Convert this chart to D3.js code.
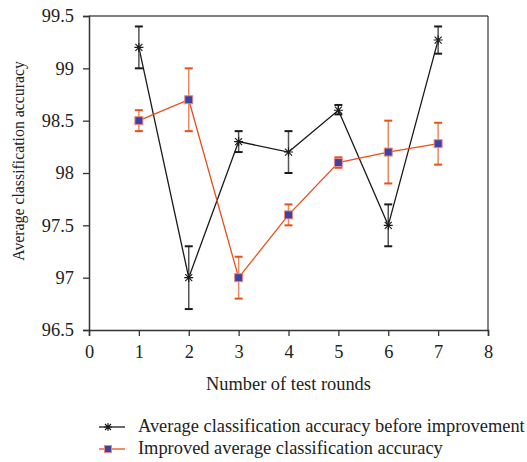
<!DOCTYPE html>
<html>
<head>
<meta charset="utf-8">
<script src="https://cdn.jsdelivr.net/npm/d3@7"></script>
<style>
  body { margin: 0; background: #fff; }
  svg { display: block; }
  text { font-family: "Liberation Serif", "DejaVu Serif", serif; fill: #222; }
</style>
</head>
<body>
<svg id="chart" width="527" height="462"></svg>
<script>
// test rounds
var rounds = [1, 2, 3, 4, 5, 6, 7];
// before improvement: mean, lower, upper
var beforeMean = [99.2, 97.0, 98.3, 98.2, 98.6, 97.5, 99.27];
var beforeLow = [99.0, 96.7, 98.2, 98.0, 98.56, 97.3, 99.14];
var beforeHigh = [99.4, 97.3, 98.4, 98.4, 98.65, 97.7, 99.4];
// improved: mean, lower, upper
var improvedMean = [98.5, 98.7, 97.0, 97.6, 98.1, 98.2, 98.28];
var improvedLow = [98.4, 98.4, 96.8, 97.5, 98.05, 97.9, 98.08];
var improvedHigh = [98.6, 99.0, 97.2, 97.7, 98.15, 98.5, 98.48];
var xTicks = [0, 1, 2, 3, 4, 5, 6, 7, 8];
var yTicks = [96.5, 97, 97.5, 98, 98.5, 99, 99.5];
var legendLabels = ["Average classification accuracy before improvement",
                    "Improved average classification accuracy"];

var svg = d3.select("#chart");
var margin = {left: 89, top: 16, right: 39, bottom: 132};
var width = 527 - margin.left - margin.right,
    height = 462 - margin.top - margin.bottom;
var fs = 18.4;

var x = d3.scaleLinear().domain([0, 8]).range([0, width]);
var y = d3.scaleLinear().domain([96.5, 99.5]).range([height, 0]);

var g = svg.append("g").attr("transform", "translate(" + margin.left + "," + margin.top + ")");

// frame top / right
g.append("line").attr("x1", 0).attr("x2", width).attr("y1", 0).attr("y2", 0)
    .attr("stroke", "#555").attr("stroke-width", 1.5);
g.append("line").attr("x1", width).attr("x2", width).attr("y1", 0).attr("y2", height)
    .attr("stroke", "#333").attr("stroke-width", 1.2);

var xAxis = g.append("g").attr("transform", "translate(0," + height + ")")
    .call(d3.axisBottom(x).tickValues(xTicks).tickSize(6).tickPadding(9).tickFormat(d3.format("d")));
var yAxis = g.append("g")
    .call(d3.axisLeft(y).tickValues(yTicks).tickSize(6).tickPadding(9).tickFormat(function (d) { return String(d); }));
[xAxis, yAxis].forEach(function (a) {
    a.select(".domain").attr("stroke", "#333").attr("stroke-width", 1.5);
    a.selectAll(".tick line").attr("stroke", "#333").attr("stroke-width", 1.3);
    a.selectAll("text").attr("font-size", fs).attr("font-family", "Liberation Serif, serif").attr("fill", "#222");
});

svg.append("text").attr("x", margin.left + width / 2).attr("y", 390)
    .attr("text-anchor", "middle").attr("font-size", fs).text("Number of test rounds");
svg.append("text").attr("transform", "translate(24,161) rotate(-90)")
    .attr("text-anchor", "middle").attr("font-size", 15.8).text("Average classification accuracy");

function series(mean, low, high, color, errColor, marker) {
    var pts = rounds.map(function (r, i) { return {x: r, m: mean[i], lo: low[i], hi: high[i]}; });
    g.append("path").datum(pts)
        .attr("fill", "none").attr("stroke", color).attr("stroke-width", 1.3)
        .attr("d", d3.line().x(function (d) { return x(d.x); }).y(function (d) { return y(d.m); }));
    var eb = g.append("g").selectAll("g").data(pts).enter().append("g");
    eb.append("line").attr("x1", function (d) { return x(d.x); }).attr("x2", function (d) { return x(d.x); })
        .attr("y1", function (d) { return y(d.lo); }).attr("y2", function (d) { return y(d.hi); })
        .attr("stroke", errColor).attr("stroke-width", 1.5);
    ["lo", "hi"].forEach(function (k) {
        eb.append("line").attr("x1", function (d) { return x(d.x) - 4; }).attr("x2", function (d) { return x(d.x) + 4; })
            .attr("y1", function (d) { return y(d[k]); }).attr("y2", function (d) { return y(d[k]); })
            .attr("stroke", color).attr("stroke-width", 2);
    });
    marker(g.append("g").selectAll("g").data(pts).enter().append("g")
        .attr("transform", function (d) { return "translate(" + x(d.x) + "," + y(d.m) + ")"; }));
}

function star(sel) {
    sel.append("path").attr("d", "M-3.5,-3.5L3.5,3.5M-3.5,3.5L3.5,-3.5M0,-4.5L0,4.5M-4.5,0L4.5,0")
        .attr("stroke", "#1a1a1a").attr("stroke-width", 1.1);
}
function square(sel) {
    sel.append("rect").attr("x", -4).attr("y", -4).attr("width", 8).attr("height", 8)
        .attr("fill", "#3f43a0").attr("stroke", "#e78a86").attr("stroke-width", 1);
}

series(beforeMean, beforeLow, beforeHigh, "#1a1a1a", "#555", star);
series(improvedMean, improvedLow, improvedHigh, "#e8501c", "#ee8a62", square);

// legend
var legend = svg.append("g");
[0, 1].forEach(function (i) {
    var ly = 427 + i * 22;
    var col = i === 0 ? "#1a1a1a" : "#e8501c";
    legend.append("line").attr("x1", 99).attr("x2", 125).attr("y1", ly).attr("y2", ly)
        .attr("stroke", col).attr("stroke-width", 1.3);
    var m = legend.append("g").attr("transform", "translate(108," + ly + ")");
    if (i === 0) {
        m.append("path").attr("d", "M-3,-3L3,3M-3,3L3,-3M0,-4L0,4M-4,0L4,0").attr("stroke", "#1a1a1a").attr("stroke-width", 1.1);
    } else {
        m.append("rect").attr("x", -3.5).attr("y", -3.5).attr("width", 7).attr("height", 7)
            .attr("fill", "#3f43a0").attr("stroke", "#e78a86").attr("stroke-width", 1);
    }
    legend.append("text").attr("x", 138).attr("y", ly + 5).attr("font-size", fs).text(legendLabels[i]);
});
</script>
</body>
</html>
